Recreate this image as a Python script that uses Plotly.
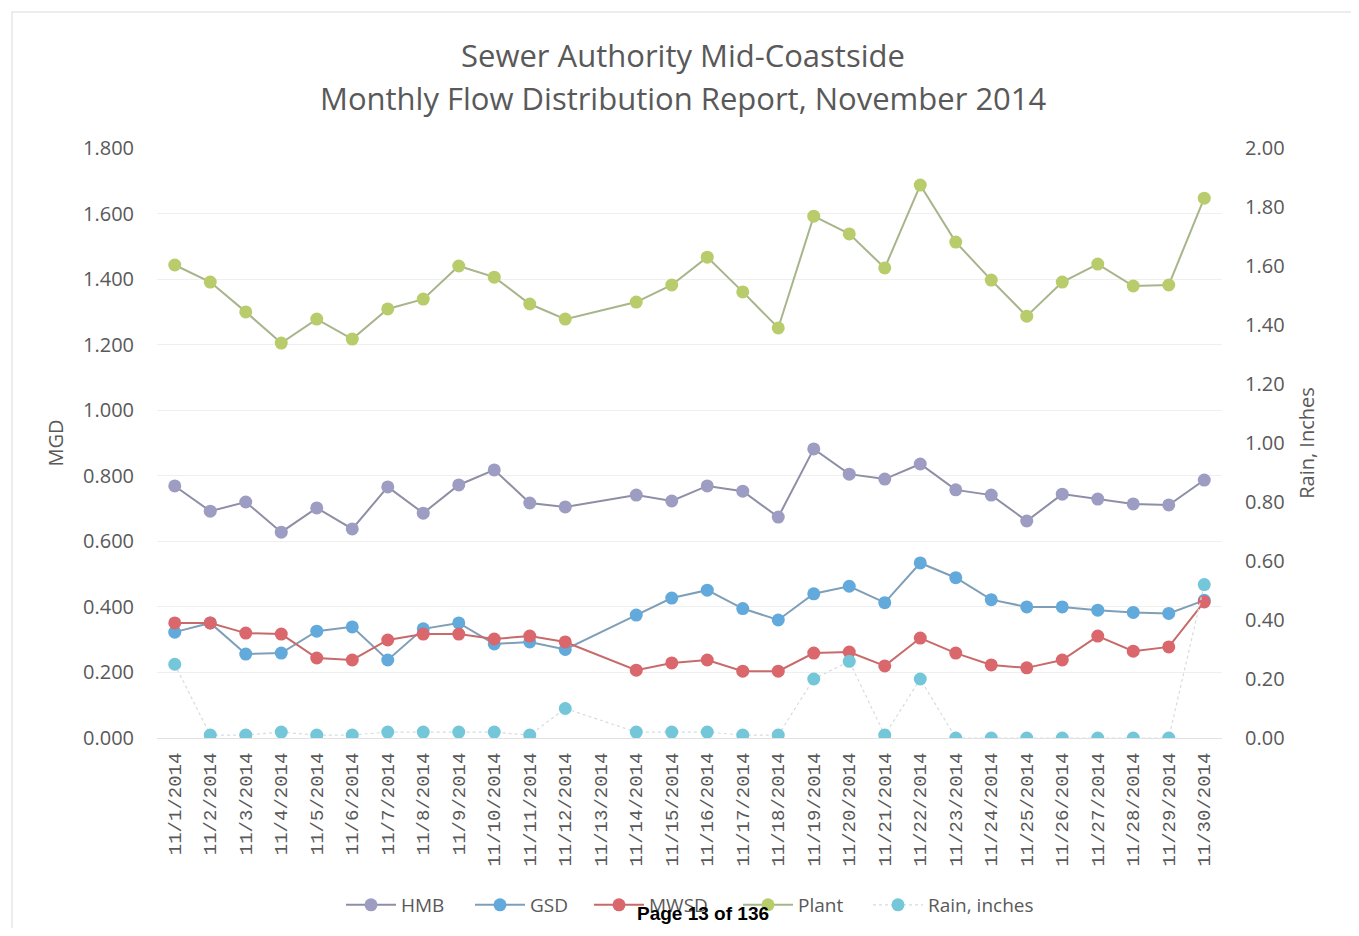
import plotly.graph_objects as go

dates = [f"11/{d}/2014" for d in range(1, 31)]

hmb = [0.769, 0.692, 0.720, 0.628, 0.702, 0.638, 0.766, 0.686, 0.772, 0.818,
       0.717, 0.705, None, 0.741, 0.723, 0.769, 0.753, 0.674, 0.882, 0.805,
       0.790, 0.836, 0.757, 0.741, 0.662, 0.744, 0.729, 0.714, 0.711, 0.787]
gsd = [0.323, 0.351, 0.256, 0.259, 0.326, 0.339, 0.238, 0.333, 0.351, 0.287,
       0.293, 0.270, None, 0.375, 0.427, 0.451, 0.395, 0.360, 0.440, 0.463,
       0.413, 0.534, 0.489, 0.422, 0.400, 0.400, 0.390, 0.383, 0.380, 0.420]
mwsd = [0.351, 0.351, 0.320, 0.317, 0.244, 0.238, 0.299, 0.317, 0.317, 0.302,
        0.311, 0.293, None, 0.207, 0.229, 0.238, 0.204, 0.204, 0.259, 0.262,
        0.220, 0.305, 0.259, 0.223, 0.214, 0.238, 0.311, 0.265, 0.278, 0.415]
plant = [1.443, 1.391, 1.300, 1.205, 1.278, 1.217, 1.309, 1.339, 1.440, 1.406,
         1.324, 1.278, None, 1.330, 1.382, 1.467, 1.361, 1.251, 1.592, 1.538,
         1.434, 1.687, 1.513, 1.397, 1.287, 1.391, 1.446, 1.379, 1.382, 1.647]
rain = [0.25, 0.01, 0.01, 0.02, 0.01, 0.01, 0.02, 0.02, 0.02, 0.02,
        0.01, 0.10, None, 0.02, 0.02, 0.02, 0.01, 0.01, 0.20, 0.26,
        0.01, 0.20, 0.00, 0.00, 0.00, 0.00, 0.00, 0.00, 0.00, 0.52]

left_ticks = [i * 0.2 for i in range(10)]
right_ticks = [i * 0.2 for i in range(11)]
title_lines = ["Sewer Authority Mid-Coastside",
               "Monthly Flow Distribution Report, November 2014"]

FONT = "Open Sans"
GRAY = "#595959"

# plot area targets page x 157..1222, y 148..738 (page has an 8px body margin)
PL, PW, PT, PH = 157, 1065, 148, 590
def px_x(x):
    return (x - PL) / PW
def px_y(y):
    return (PT + PH - y) / PH

fig = go.Figure()

legend_marker_x = [371, 500, 619, 768, 898]
legend_names = ["legend", "legend2", "legend3", "legend4", "legend5"]

def add(i, name, vals, mcolor, lcolor, yaxis="y", dash="solid", lw=2):
    fig.add_trace(go.Scatter(
        x=dates, y=vals, name=name, mode="lines+markers", yaxis=yaxis,
        connectgaps=True, legend=legend_names[i],
        line=dict(color=lcolor, width=lw, dash=dash),
        marker=dict(color=mcolor, size=13),
    ))

add(0, "HMB", hmb, "#9d9cc2", "#8e8ea6")
add(1, "GSD", gsd, "#62a9dc", "#7f9fb8")
add(2, "MWSD", mwsd, "#d9676b", "#c86a6a")
add(3, "Plant", plant, "#b8cc6c", "#a7b58a")
add(4, "Rain, inches", rain, "#74c6d9", "#d3dde0", yaxis="y2", dash="dot", lw=1.2)

legend_common = dict(orientation="h", xanchor="left", yanchor="middle",
                     y=px_y(905), font=dict(size=19, color=GRAY),
                     itemwidth=50, bgcolor="rgba(0,0,0,0)")
legends = {}
for nm, mx in zip(legend_names, legend_marker_x):
    legends[nm] = dict(legend_common, x=px_x(mx - 30))

fig.update_layout(
    width=1343, height=920,
    paper_bgcolor="white", plot_bgcolor="white",
    margin=dict(l=PL - 8, r=1343 - (PL - 8) - PW, t=PT - 8,
                b=920 - (PT - 8) - PH, autoexpand=False),
    font=dict(family=FONT, color=GRAY),
    xaxis=dict(
        type="category", categoryorder="array", categoryarray=dates,
        range=[-0.5, 29.5],
        tickangle=-90, tickfont=dict(family="Liberation Mono", size=19, color=GRAY),
        showgrid=False, showline=True, linecolor="#e2e2e2", linewidth=1,
        ticks="", ticklen=0, automargin=False, ticklabelstandoff=6,
    ),
    yaxis=dict(
        range=[0, 1.8], tickvals=left_ticks, tickformat=".3f",
        tickfont=dict(size=20, color=GRAY),
        showgrid=True, gridcolor="#efefef", gridwidth=1, zeroline=False,
        title=dict(text="MGD", font=dict(size=20, color=GRAY), standoff=14),
        ticklabelstandoff=22, automargin=False,
    ),
    yaxis2=dict(
        range=[0, 2.0], tickvals=right_ticks, tickformat=".2f",
        overlaying="y", side="right",
        tickfont=dict(size=20, color=GRAY),
        showgrid=False, zeroline=False,
        title=dict(text="Rain, Inches", font=dict(size=20, color=GRAY), standoff=16),
        ticklabelstandoff=22, automargin=False,
    ),
    showlegend=True,
    **legends,
)

for txt, ypx in zip(title_lines, [55, 98]):
    fig.add_annotation(text=txt, xref="paper", yref="paper",
                       x=px_x(683), y=px_y(ypx),
                       xanchor="center", yanchor="middle", showarrow=False,
                       font=dict(family=FONT, size=31, color=GRAY))

fig.add_shape(type="rect", xref="paper", yref="paper",
              x0=px_x(12), x1=px_x(1352), y0=px_y(930), y1=px_y(12),
              line=dict(color="#e6e6e6", width=1.5), layer="below")

fig.add_annotation(text="<b>Page 13 of 136</b>", xref="paper", yref="paper",
                   x=px_x(703), y=px_y(913),
                   xanchor="center", yanchor="middle", showarrow=False,
                   font=dict(family="Liberation Sans", size=19, color="black"))

fig.write_html("out.html")
